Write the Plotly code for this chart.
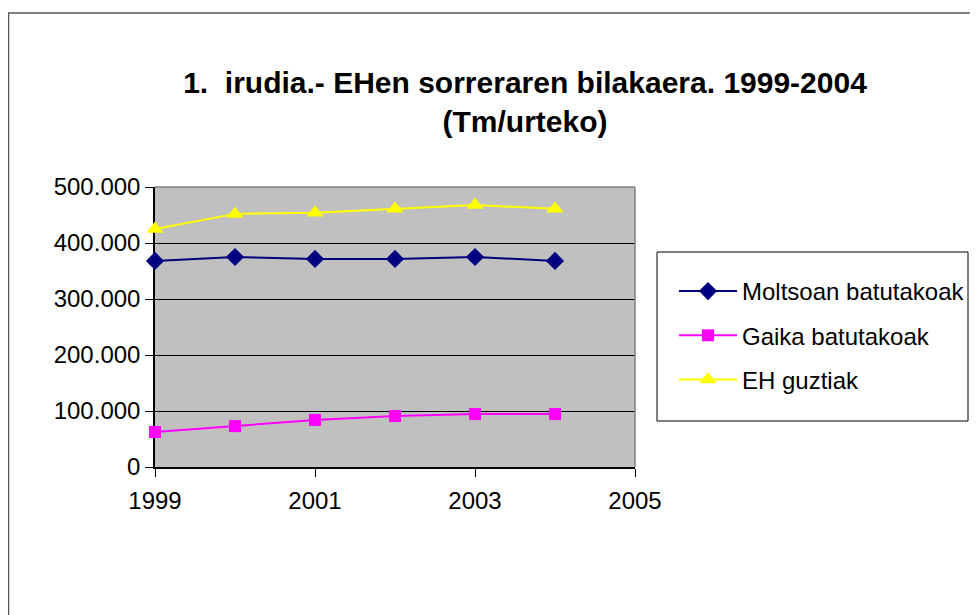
import plotly.graph_objects as go

years = [1999, 2000, 2001, 2002, 2003, 2004]
moltsoan = [368000, 375000, 371500, 371500, 375000, 368000]
gaika = [62500, 73000, 84000, 91000, 94500, 94500]
eh_guztiak = [425000, 452000, 454000, 461000, 468000, 461000]

series_names = ["Moltsoan batutakoak", "Gaika batutakoak", "EH guztiak"]
x_ticks = [1999, 2001, 2003, 2005]
y_ticks = [0, 100000, 200000, 300000, 400000, 500000]
title_text = "1.  irudia.- EHen sorreraren bilakaera. 1999-2004<br>(Tm/urteko)"

FONT = "Liberation Sans, Arial, sans-serif"

fig = go.Figure()
fig.add_trace(go.Scatter(x=years, y=moltsoan, name=series_names[0], mode="lines+markers",
                         legendgroup="a", cliponaxis=False,
                         line=dict(color="#000080", width=2),
                         marker=dict(symbol="diamond", size=14, color="#000080")))
fig.add_trace(go.Scatter(x=years, y=gaika, name=series_names[1], mode="lines+markers",
                         legendgroup="b", cliponaxis=False,
                         line=dict(color="#FF00FF", width=2),
                         marker=dict(symbol="square", size=12, color="#FF00FF")))
fig.add_trace(go.Scatter(x=years, y=eh_guztiak, name=series_names[2], mode="lines+markers",
                         legendgroup="c", cliponaxis=False,
                         line=dict(color="#FFFF00", width=2),
                         marker=dict(symbol="triangle-up", size=15, color="#FFFF00")))

OFF = 8  # page body margin
W, H = 978, 615
# desired plot area in screen pixels: x 155..635, y 187..467
L = 155 - OFF
T = 187 - OFF
R = W - (635 - OFF)
B = H - (467 - OFF)
pw, ph = 480, 280

def px2x(px):
    return (px - 155) / pw

def py2y(py):
    return (467 - py) / ph

shapes = [
    # outer chart border
    dict(type="rect", xref="paper", yref="paper",
         x0=px2x(8.5), x1=px2x(977), y0=py2y(640), y1=py2y(13),
         line=dict(color="#555555", width=1.5), layer="above"),
    # legend box
    dict(type="rect", xref="paper", yref="paper",
         x0=px2x(657), x1=px2x(968), y0=py2y(421), y1=py2y(252),
         line=dict(color="#000000", width=1), layer="above"),
    # plot area top/right border
    dict(type="line", xref="paper", yref="paper", x0=0, x1=1, y0=1, y1=1,
         line=dict(color="#808080", width=1.5), layer="above"),
    dict(type="line", xref="paper", yref="paper", x0=1, x1=1, y0=0, y1=1,
         line=dict(color="#808080", width=1.5), layer="above"),
]

fig.update_layout(
    width=W, height=H,
    margin=dict(l=L, r=R, t=T, b=B, pad=0),
    paper_bgcolor="white",
    plot_bgcolor="#C0C0C0",
    separators=",.",
    font=dict(family=FONT, size=24, color="black"),
    title=dict(text="<b>" + title_text + "</b>", x=(525 - OFF) / W, xanchor="center",
               y=1 - (93 - OFF) / H, yanchor="top", yref="container",
               font=dict(family=FONT, size=30, color="black")),
    showlegend=True,
    legend=dict(x=px2x(674), y=py2y(269), xanchor="left", yanchor="top",
                bgcolor="rgba(0,0,0,0)", borderwidth=0,
                font=dict(family=FONT, size=24, color="black"),
                traceorder="grouped", tracegroupgap=10, itemwidth=58),
    shapes=shapes,
)

fig.update_xaxes(range=[1999, 2005], tickvals=x_ticks, ticktext=[str(v) for v in x_ticks],
                 showgrid=False, zeroline=False, layer="below traces",
                 showline=True, linecolor="black", linewidth=1.5,
                 ticks="outside", ticklen=8, tickcolor="black", tickwidth=1,
                 ticklabelstandoff=3,
                 tickfont=dict(family=FONT, size=24, color="black"))
fig.update_yaxes(range=[0, 500000], tickvals=y_ticks, tickformat=",d",
                 showgrid=True, gridcolor="black", gridwidth=1,
                 zeroline=False, layer="below traces",
                 showline=True, linecolor="black", linewidth=1.5,
                 ticks="outside", ticklen=8, tickcolor="black", tickwidth=1,
                 tickfont=dict(family=FONT, size=24, color="black"))

fig.write_html("out.html")
